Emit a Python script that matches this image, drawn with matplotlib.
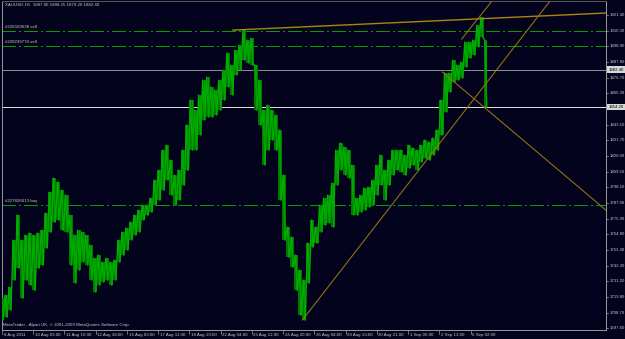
import numpy as np
import matplotlib
matplotlib.use("Agg")
import matplotlib.pyplot as plt

W, H = 625, 339
BG = "#03031e"
FG = "#c8c8c8"

# XAUUSD H1, 8 Aug - 6 Sep 2011, high/low every 4 bars
bar_step = 4
highs = [1719.7, 1721.2, 1726.9, 1760.5, 1778.4, 1760.5, 1764.1, 1765.5, 1764.1, 1765.5,
         1767.6, 1779.8, 1794.8, 1804.8, 1802.0, 1796.2, 1792.7, 1778.4, 1764.1, 1767.6,
         1766.2, 1764.1, 1756.9, 1747.6, 1749.8, 1744.8, 1747.6, 1744.8, 1746.2, 1760.5,
         1766.2, 1769.1, 1773.4, 1778.4, 1781.9, 1785.5, 1785.5, 1790.5, 1803.4, 1810.5,
         1824.8, 1828.4, 1817.7, 1807.0, 1810.5, 1824.8, 1842.7, 1860.6, 1853.4, 1864.2,
         1874.9, 1877.0, 1869.9, 1867.7, 1874.9, 1882.0, 1894.2, 1885.6, 1896.3, 1899.9,
         1910.6, 1903.5, 1904.9, 1885.6, 1874.9, 1853.4, 1857.0, 1853.4, 1849.9, 1839.1,
         1807.0, 1769.8, 1762.6, 1749.8, 1739.0, 1731.9, 1758.4, 1774.8, 1769.8, 1785.5,
         1790.5, 1792.7, 1801.3, 1824.8, 1829.9, 1827.0, 1824.8, 1814.1, 1790.5, 1792.7,
         1797.7, 1798.4, 1803.4, 1814.1, 1821.3, 1810.5, 1817.7, 1824.8, 1824.8, 1824.8,
         1821.3, 1828.4, 1826.3, 1824.8, 1828.4, 1832.0, 1830.6, 1833.4, 1839.1, 1860.6,
         1879.9, 1879.9, 1889.2, 1885.6, 1887.8, 1902.1, 1902.1, 1903.5, 1914.2, 1919.9,
         1903.5]
lows = [1703.3, 1705.4, 1710.4, 1731.9, 1740.5, 1719.0, 1731.9, 1728.3, 1724.7, 1740.5,
        1742.6, 1754.8, 1766.2, 1773.4, 1774.8, 1767.6, 1766.2, 1742.6, 1729.8, 1739.0,
        1744.8, 1742.6, 1731.9, 1723.3, 1728.3, 1730.5, 1731.9, 1728.3, 1731.9, 1744.8,
        1749.8, 1753.3, 1760.5, 1764.1, 1766.2, 1774.8, 1778.4, 1780.5, 1785.5, 1789.1,
        1796.2, 1803.4, 1792.7, 1785.5, 1789.1, 1799.8, 1810.5, 1824.8, 1824.8, 1835.6,
        1846.3, 1848.4, 1848.4, 1849.9, 1853.4, 1860.6, 1869.9, 1864.2, 1878.5, 1882.0,
        1889.2, 1887.1, 1885.6, 1853.4, 1842.7, 1814.1, 1824.8, 1832.0, 1824.8, 1789.1,
        1760.5, 1748.3, 1741.2, 1724.7, 1706.9, 1703.3, 1729.8, 1755.5, 1758.4, 1766.2,
        1771.2, 1772.7, 1769.8, 1799.8, 1810.5, 1807.0, 1804.8, 1778.4, 1778.4, 1780.5,
        1781.9, 1784.1, 1785.5, 1792.7, 1799.8, 1789.1, 1799.8, 1807.0, 1810.5, 1809.1,
        1807.0, 1812.0, 1814.1, 1810.5, 1816.3, 1819.1, 1817.7, 1821.3, 1824.8, 1835.6,
        1852.0, 1866.3, 1873.5, 1874.9, 1876.3, 1884.2, 1890.6, 1892.8, 1898.5, 1905.6,
        1855.6]

price_ticks = [1921.40, 1910.30, 1898.90, 1887.80, 1876.70, 1865.30, 1854.20, 1843.10,
               1831.70, 1820.60, 1809.50, 1798.10, 1787.00, 1775.90, 1764.80, 1753.40,
               1742.30, 1731.20, 1719.80, 1708.70, 1697.60]
time_labels = ["8 Aug 2011", "10 Aug 03:00", "11 Aug 10:00", "12 Aug 18:00", "16 Aug 03:00",
               "17 Aug 11:00", "18 Aug 19:00", "22 Aug 04:00", "23 Aug 12:00", "24 Aug 20:00",
               "26 Aug 04:00", "29 Aug 13:00", "30 Aug 21:00", "1 Sep 05:00", "2 Sep 13:00",
               "6 Sep 02:00"]
bars_per_label = 31

# order lines
orders = [("#228329638 sell", 1910.0), ("#228239778 sell", 1899.2), ("#227826613 buy", 1785.5)]
bid = 1882.40
hline_white = 1855.6
hline_label = "1854.20"

# trend lines (bar, price) -> (bar, price), drawn as rays
trends = [((229, 1910.6), (599, 1922.8)),
          ((298, 1703.3), (452, 1846.3)),
          ((456, 1904.2), (479, 1925.0)),
          ((437, 1880.6), (599, 1782.0))]

title = "XAUUSD,H1  1887.80 1888.25 1879.20 1882.40"
footer = "MetaTrader - Alpari UK, \u00a9 2001-2009 MetaQuotes Software Corp."

fig = plt.figure(figsize=(W / 100, H / 100), dpi=100, facecolor=BG)
ax = fig.add_axes([2 / W, 1 - 330 / H, 604 / W, 329 / H], facecolor=BG)
ax.set_xlim(0, 599.2)
ax.set_ylim(1696.2, 1931.4)
for s in ax.spines.values():
    s.set_color("#9a9a9a")
    s.set_linewidth(0.7)
ax.spines["top"].set_color("#5a5a5a")
ax.set_xticks([])
ax.set_yticks([])

font = ["Liberation Sans", "DejaVu Sans"]

# horizontal lines, 1 px crisp like the terminal draws them
for name, lvl in orders:
    ax.axhline(lvl, color="#00a000", lw=0.7, ls=(0, (14, 3.5, 1.5, 3.5)), zorder=1,
               antialiased=False)
    ax.text(3, lvl + 1.2, name, color=FG, fontsize=3.2, family=font, va="bottom", ha="left")
ax.axhline(bid, color="#8a8a8a", lw=0.7, zorder=1, antialiased=False)
ax.axhline(hline_white, color="#dcdcdc", lw=0.7, zorder=1, antialiased=False)

# price bars: dense H1 bars shown as a band with a jagged high/low trace
x = np.arange(len(highs)) * bar_step
hi = np.array(highs)
lo = np.array(lows)
ax.fill_between(x, lo, hi, step="mid", color="#007800", lw=0, zorder=2)
zx = np.column_stack([x - 1, x + 1]).ravel()
zy = np.column_stack([hi, lo]).ravel()
ax.plot(zx, zy, color="#00b000", lw=0.9, zorder=3)
ax.vlines(x, lo, hi, color="#00a400", lw=0.7, zorder=3)

# trend lines
for i, ((x1, y1), (x2, y2)) in enumerate(trends):
    k = (y2 - y1) / (x2 - x1)
    ax.plot([x1, x1 + 2000], [y1, y1 + k * 2000], color="#a8880c" if i == 0 else "#98780e",
            lw=1.0 if i == 0 else 0.75, zorder=4)

# price scale
ytr = ax.get_yaxis_transform()
boxed = [(bid, f"{bid:.2f}"), (hline_white, hline_label)]
for p in price_ticks:
    ax.plot([1.0, 1.004], [p, p], transform=ytr, color="#9a9a9a", lw=0.5, clip_on=False)
    if any(abs(p - b) < 3 for b, _ in boxed):
        continue
    ax.text(1.006, p, f"{p:.2f}", transform=ytr, color=FG, fontsize=3.1, family=font,
            va="center", ha="left", clip_on=False)
for lvl, txt in boxed:
    ax.text(1.004, lvl, txt, transform=ytr, color="#000000", fontsize=3.1, family=font,
            va="center", ha="left", clip_on=False,
            bbox=dict(boxstyle="square,pad=0.25", fc="#d8d8d8", ec="none"))

# time scale
xtr = ax.get_xaxis_transform()
for i, lab in enumerate(time_labels):
    t = i * bars_per_label
    ax.plot([t, t], [0, -0.012], transform=xtr, color="#9a9a9a", lw=0.5, clip_on=False)
    ax.text(t + 1.5, -0.008, lab, transform=xtr, color=FG, fontsize=3.2, family=font,
            va="top", ha="left", clip_on=False)

fig.text(5 / W, 1 - 3 / H, title, color=FG, fontsize=3.2, family=font, va="top", ha="left")
fig.text(3 / W, 1 - 323 / H, footer, color=FG, fontsize=3.2, family=font, va="top", ha="left")

fig.savefig("out.png", dpi=100, facecolor=BG)
